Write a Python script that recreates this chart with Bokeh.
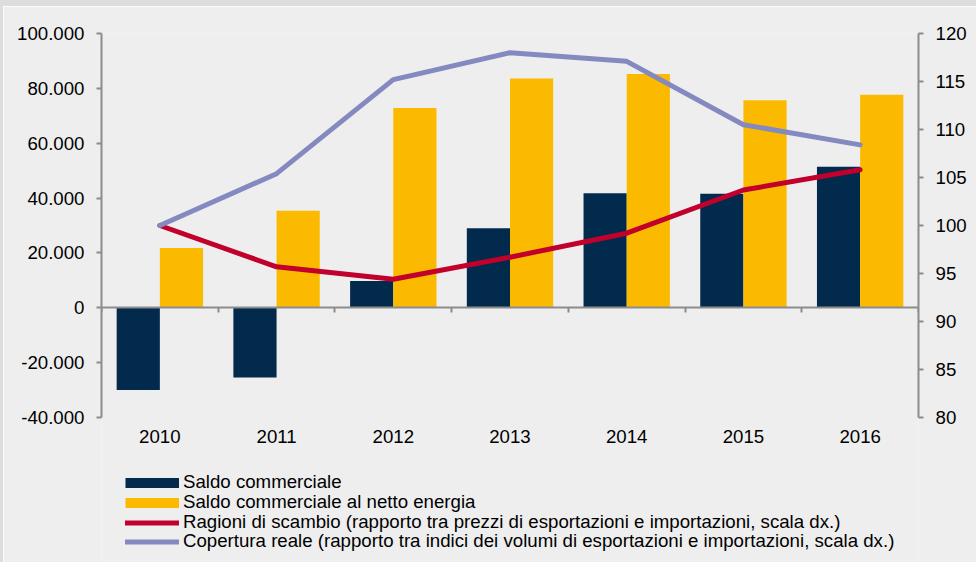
from bokeh.plotting import figure
from bokeh.models import (Range1d, LinearAxis, FixedTicker, Legend, LegendItem,
                          ColumnDataSource)
from bokeh.transform import dodge
from bokeh.embed import file_html
from bokeh.resources import INLINE

years = ["2010", "2011", "2012", "2013", "2014", "2015", "2016"]
saldo = [-30000, -25400, 9800, 29000, 41800, 41600, 51400]
saldo_netto = [21800, 35400, 72800, 83600, 85200, 75700, 77700]
ragioni = [100.0, 95.7, 94.4, 96.7, 99.2, 103.7, 105.8]
copertura = [100.0, 105.4, 115.2, 118.0, 117.1, 110.5, 108.4]
left_ticks = [-40000, -20000, 0, 20000, 40000, 60000, 80000, 100000]
right_ticks = [80, 85, 90, 95, 100, 105, 110, 115, 120]

labels = ["Saldo commerciale",
          "Saldo commerciale al netto energia",
          "Ragioni di scambio (rapporto tra prezzi di esportazioni e importazioni, scala dx.)",
          "Copertura reale (rapporto tra indici dei volumi di esportazioni e importazioni, scala dx.)"]

DARK = "#022A4C"
YELLOW = "#FBBA00"
RED = "#C1002C"
LAV = "#8489C0"
AXIS = "#8C8C8C"
BG = "#EEEEEE"
EDGE = "#DCDDDF"
FONT = "Liberation Sans"
FS = "18.67px"

# layout (pixels): chart area 33..417 on the page, frame extended down to hold the legend.
# The canvas is shifted by the border, so its right/bottom overflow is clipped.
EDGE_TOP, EDGE_LEFT = 6, 3
W, H = 976, 562
TOP, LEFT = 33 - EDGE_TOP, 101 - EDGE_LEFT
RIGHT = 58 + EDGE_LEFT
AXIS_PX = 384          # pixel height of the value axes
BOTTOM_BORDER = 2 + EDGE_TOP
extra_px = H - BOTTOM_BORDER - TOP - AXIS_PX

lmin, lmax = left_ticks[0], left_ticks[-1]
rmin, rmax = right_ticks[0], right_ticks[-1]
l_start = lmin - extra_px * (lmax - lmin) / AXIS_PX
r_start = rmin - extra_px * (rmax - rmin) / AXIS_PX

xpos = [i + 0.5 for i in range(len(years))]
src = ColumnDataSource(dict(x=xpos, saldo=saldo, netto=saldo_netto,
                            ragioni=ragioni, copertura=copertura))

p = figure(width=W, height=H, output_backend="svg", toolbar_location=None,
           x_range=Range1d(0, len(years)), y_range=Range1d(l_start, lmax),
           min_border_left=LEFT, min_border_right=RIGHT, min_border_top=TOP,
           min_border_bottom=BOTTOM_BORDER)
p.styles = {"border-top": f"{EDGE_TOP}px solid {EDGE}",
            "border-left": f"{EDGE_LEFT}px solid {EDGE}"}
p.background_fill_color = BG
p.border_fill_color = BG
p.outline_line_color = None
p.xgrid.visible = False
p.ygrid.visible = False

p.extra_y_ranges = {"right": Range1d(r_start, rmax)}

bw = 0.37
p.vbar(x=dodge("x", -bw / 2), top="saldo", width=bw, source=src,
       fill_color=DARK, line_color=None)
p.vbar(x=dodge("x", bw / 2), top="netto", width=bw, source=src,
       fill_color=YELLOW, line_color=None)
r_rag = p.line("x", "ragioni", source=src, y_range_name="right",
               line_color=RED, line_width=5, line_cap="round", line_join="round")
r_cop = p.line("x", "copertura", source=src, y_range_name="right",
               line_color=LAV, line_width=5, line_cap="round", line_join="round")

# legend swatches for the bars (thick short line = filled rectangle swatch)
nan = float("nan")
leg_dark = p.line(x=[nan], y=[nan], line_color=DARK, line_width=10, line_cap="butt")
leg_yel = p.line(x=[nan], y=[nan], line_color=YELLOW, line_width=10, line_cap="butt")


def style_value_axis(ax):
    ax.minor_tick_line_color = None
    ax.axis_line_color = AXIS
    ax.axis_line_width = 2
    ax.major_tick_line_color = AXIS
    ax.major_tick_line_width = 2
    ax.major_tick_out = 5
    ax.major_tick_in = 0
    ax.major_label_standoff = 12
    ax.major_label_text_font = FONT
    ax.major_label_text_font_size = FS
    ax.major_label_text_color = "#000000"


# left axis
ya = p.yaxis[0]
ya.ticker = FixedTicker(ticks=left_ticks)
ya.bounds = (lmin, lmax)
ya.major_label_overrides = {t: f"{t:,}".replace(",", ".") for t in left_ticks}
style_value_axis(ya)

# right axis
ra = LinearAxis(y_range_name="right", ticker=FixedTicker(ticks=right_ticks),
                bounds=(rmin, rmax))
style_value_axis(ra)
p.add_layout(ra, "right")

# year labels below the chart area
xa = p.xaxis[0]
xa.fixed_location = lmin
xa.ticker = FixedTicker(ticks=xpos)
xa.major_label_overrides = {x: y for x, y in zip(xpos, years)}
xa.axis_line_color = None
xa.major_tick_line_color = None
xa.minor_tick_line_color = None
xa.major_label_standoff = 6
xa.major_label_text_font = FONT
xa.major_label_text_font_size = FS
xa.major_label_text_color = "#000000"

# zero-line axis with ticks between categories
za = LinearAxis(ticker=FixedTicker(ticks=list(range(len(years) + 1))),
                fixed_location=0)
za.axis_line_color = AXIS
za.axis_line_width = 2
za.major_tick_line_color = AXIS
za.major_tick_line_width = 2
za.major_tick_out = 5
za.major_tick_in = 0
za.minor_tick_line_color = None
za.major_label_text_font_size = "0px"
za.major_label_text_alpha = 0
p.add_layout(za, "below")

# one legend per row so that rows sit exactly 20 px apart
renderers = [leg_dark, leg_yel, r_rag, r_cop]
row_bottoms = [67, 47, 27, 8]   # px above the frame's bottom edge
for lab, rend, yb in zip(labels, renderers, row_bottoms):
    lg = Legend(items=[LegendItem(label=lab, renderers=[rend])], location=(24, yb))
    lg.background_fill_alpha = 0
    lg.border_line_color = None
    lg.padding = 0
    lg.margin = 0
    lg.spacing = 0
    lg.glyph_width = 54
    lg.glyph_height = 21
    lg.label_height = 21
    lg.label_standoff = 4
    lg.label_text_font = FONT
    lg.label_text_font_size = FS
    lg.label_text_color = "#000000"
    p.add_layout(lg, "center")

open("out.html", "w").write(file_html(p, INLINE))
